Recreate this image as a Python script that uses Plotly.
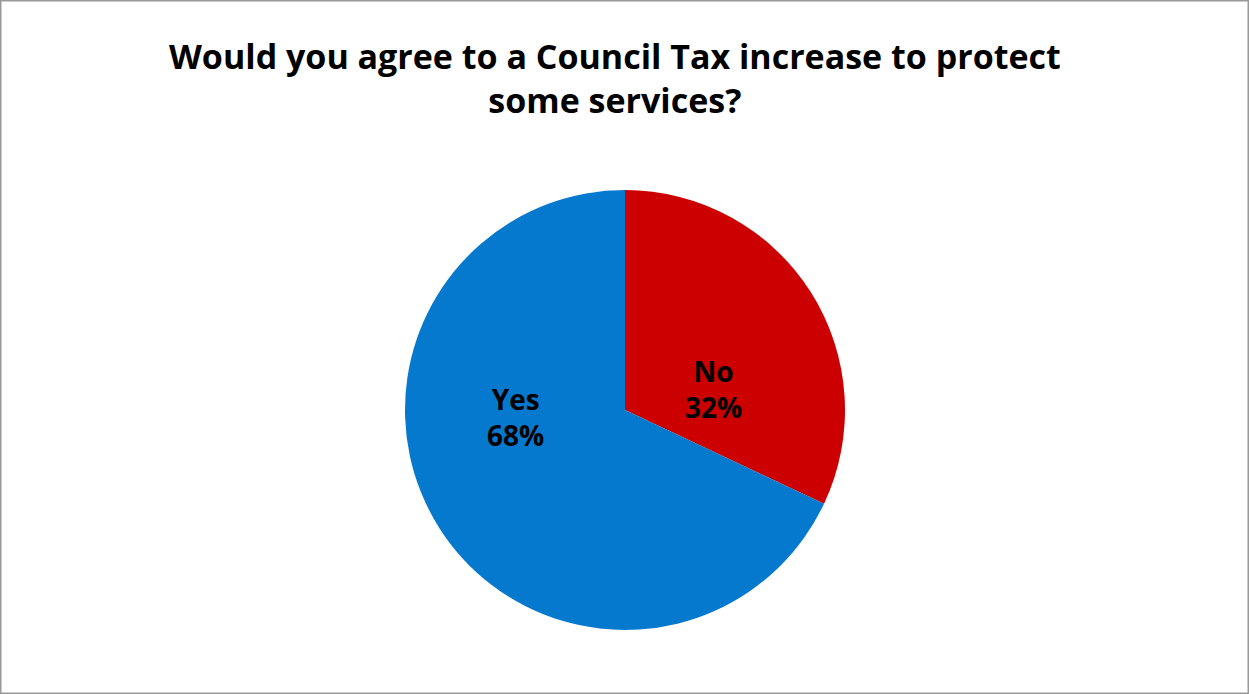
import plotly.graph_objects as go

labels = ["No", "Yes"]
values = [32, 68]
colors = ["#CC0000", "#0579CE"]
title_text = "Would you agree to a Council Tax increase to protect<br>some services?"

W, H = 1249, 694
cx, cy, r = 625, 410, 220

# label anchor points (pixels), Excel-like best fit placement
label_pos = {"No": (713, 389), "Yes": (515, 417)}

fig = go.Figure(go.Pie(
    labels=labels,
    values=values,
    sort=False,
    direction="clockwise",
    rotation=0,
    marker=dict(colors=colors, line=dict(width=0)),
    textinfo="none",
    showlegend=False,
    domain=dict(x=[(cx - r) / W, (cx + r) / W], y=[(H - cy - r) / H, (H - cy + r) / H]),
    hoverinfo="skip",
))

total = sum(values)
annotations = []
for lab, v in zip(labels, values):
    px, py = label_pos[lab]
    annotations.append(dict(
        x=px / W, y=1 - py / H, xref="paper", yref="paper",
        text=f"{lab}<br>{round(v / total * 100)}%", showarrow=False,
        xanchor="center", yanchor="middle", align="center",
        font=dict(family="Open Sans", size=28, color="black", weight="bold"),
    ))
annotations.append(dict(
    x=615 / W, y=1 - 78 / H, xref="paper", yref="paper",
    text=title_text, showarrow=False, xanchor="center", yanchor="middle", align="center",
    font=dict(family="Open Sans", size=34, color="black", weight="bold"),
))

fig.update_layout(
    width=W, height=H,
    margin=dict(l=0, r=0, t=0, b=0),
    paper_bgcolor="white",
    annotations=annotations,
    shapes=[dict(type="rect", xref="paper", yref="paper", x0=0, y0=0, x1=1, y1=1,
                 line=dict(color="#999999", width=3))],
)

fig.write_html("out.html", config={"displayModeBar": False},
               post_script="document.body.style.margin='0';document.body.style.overflow='hidden';")
